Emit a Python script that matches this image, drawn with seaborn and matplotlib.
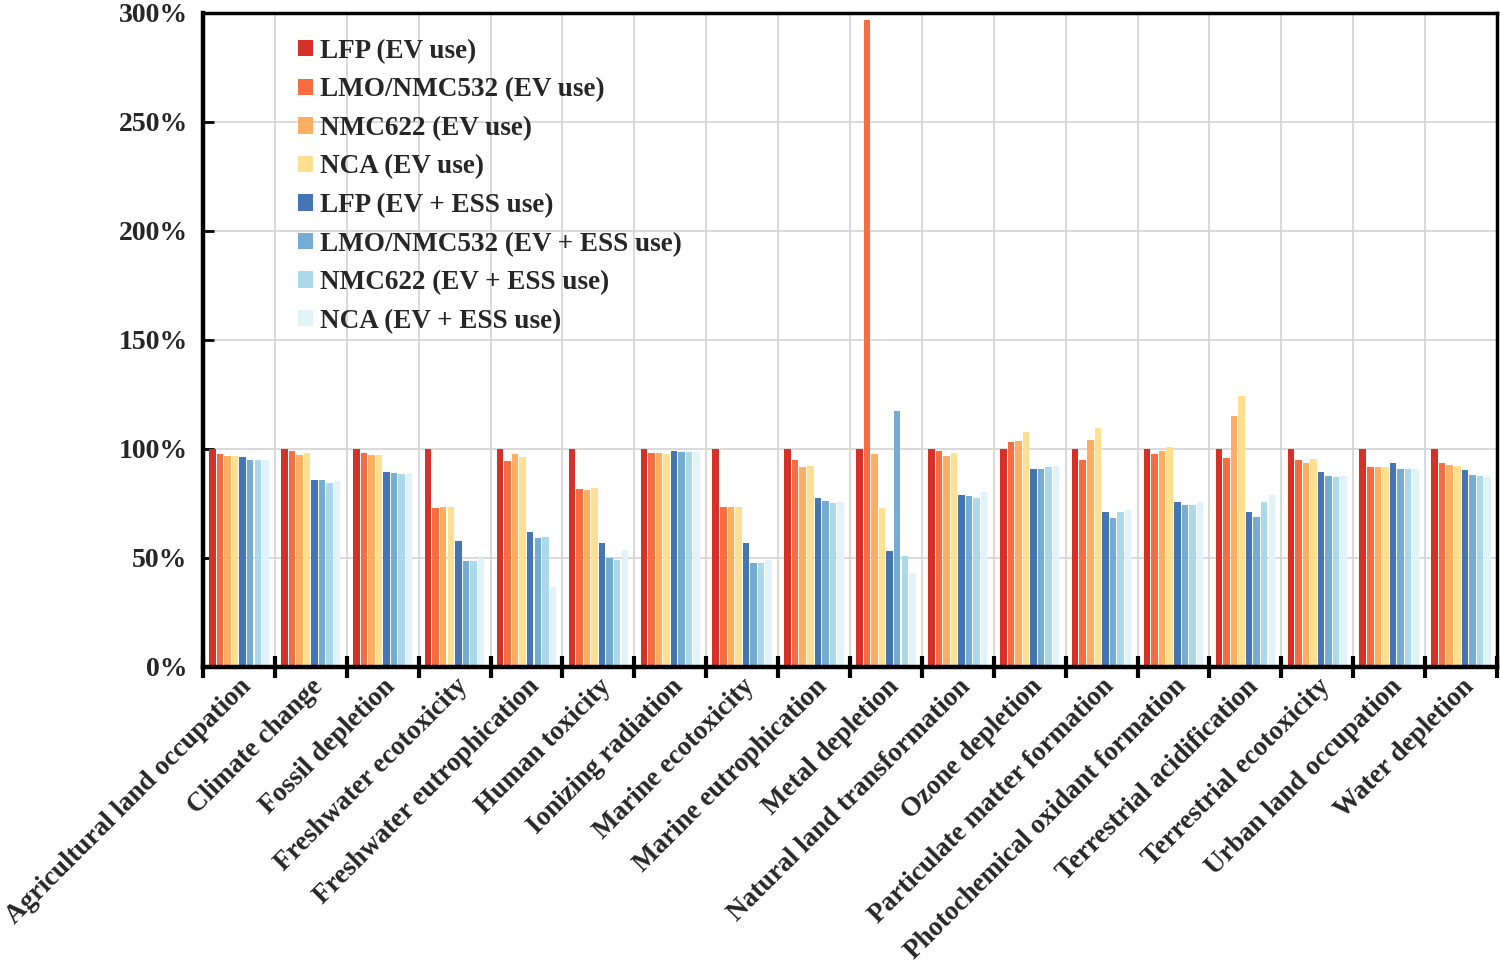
import pandas as pd
import matplotlib
matplotlib.use("Agg")
import matplotlib.pyplot as plt
import seaborn as sns
from matplotlib.ticker import PercentFormatter, FixedLocator, NullFormatter

# === Data (percent of LFP EV use) ===
categories = [
    "Agricultural land occupation", "Climate change", "Fossil depletion",
    "Freshwater ecotoxicity", "Freshwater eutrophication", "Human toxicity",
    "Ionizing radiation", "Marine ecotoxicity", "Marine eutrophication",
    "Metal depletion", "Natural land transformation", "Ozone depletion",
    "Particulate matter formation", "Photochemical oxidant formation",
    "Terrestrial acidification", "Terrestrial ecotoxicity",
    "Urban land occupation", "Water depletion",
]

series_names = [
    "LFP (EV use)", "LMO/NMC532 (EV use)", "NMC622 (EV use)", "NCA (EV use)",
    "LFP (EV + ESS use)", "LMO/NMC532 (EV + ESS use)",
    "NMC622 (EV + ESS use)", "NCA (EV + ESS use)",
]

lfp_ev = [100] * 18
lmo_ev = [97.7, 98.9, 98.3, 73.0, 94.3, 81.7, 98.3, 73.6, 95.1,
          297.0, 99.1, 103.1, 95.1, 97.7, 95.7, 95.1, 91.7, 93.4]
nmc_ev = [96.9, 97.1, 97.1, 73.6, 97.7, 81.0, 98.3, 73.6, 91.6,
          97.5, 96.9, 103.8, 104.3, 98.9, 115.2, 93.7, 91.7, 92.6]
nca_ev = [96.9, 98.3, 97.4, 73.6, 96.3, 82.2, 97.9, 73.6, 92.2,
          73.0, 98.2, 107.8, 109.7, 100.8, 124.5, 95.6, 91.7, 92.0]
lfp_ess = [96.2, 85.7, 89.6, 57.7, 61.7, 57.1, 99.2, 57.1, 77.6,
           53.1, 79.0, 90.9, 71.0, 75.6, 71.0, 89.6, 93.6, 90.2]
lmo_ess = [95.1, 85.7, 89.0, 48.5, 59.0, 50.0, 98.6, 47.7, 76.2,
           117.5, 78.4, 90.9, 68.4, 74.2, 69.0, 87.6, 91.0, 87.9]
nmc_ess = [95.1, 84.4, 88.3, 48.5, 59.7, 49.2, 98.6, 47.7, 75.0,
           51.1, 77.6, 91.6, 71.0, 74.2, 75.6, 87.0, 91.0, 87.4]
nca_ess = [94.8, 85.1, 89.0, 49.8, 36.8, 53.7, 98.5, 48.9, 75.6,
           43.3, 80.2, 92.0, 72.2, 75.6, 78.7, 87.6, 90.8, 87.3]

colors = ["#d73027", "#f46d43", "#fdae61", "#fee090",
          "#4575b4", "#74add1", "#abd9e9", "#e0f3f8"]

all_series = [lfp_ev, lmo_ev, nmc_ev, nca_ev, lfp_ess, lmo_ess, nmc_ess, nca_ess]

rows = []
for name, vals in zip(series_names, all_series):
    for cat, v in zip(categories, vals):
        rows.append({"category": cat, "series": name, "value": v})
df = pd.DataFrame(rows)


def main():
    sns.set_style("white")
    plt.rcParams['font.family'] = ['Liberation Serif', 'DejaVu Serif']
    plt.rcParams['font.weight'] = 'bold'

    fig = plt.figure(figsize=(15, 9.75), dpi=100)
    ax = fig.add_axes([0.1353, 0.3159, 0.8627, 0.6708])

    sns.barplot(
        data=df, x="category", y="value", hue="series",
        order=categories, hue_order=series_names,
        palette=colors, saturation=1, width=0.84, gap=0.14,
        linewidth=0, errorbar=None, ax=ax,
    )

    ax.set_xlim(-0.5, len(categories) - 0.5)
    ax.set_ylim(0, 300)
    ax.set_yticks(range(0, 301, 50))
    ax.yaxis.set_major_formatter(PercentFormatter(decimals=0))
    ax.set_xlabel("")
    ax.set_ylabel("")

    # Ticks: labels at centers, marks at group boundaries
    ax.tick_params(axis='x', which='major', length=0, pad=5, labelsize=19.5)
    ax.set_xticks(range(len(categories)))
    ax.set_xticklabels(categories, rotation=45, ha='right',
                       rotation_mode='anchor', fontweight='bold')
    ax.xaxis.set_minor_locator(FixedLocator([i + 0.5 for i in range(-1, len(categories))]))
    ax.xaxis.set_minor_formatter(NullFormatter())
    ax.tick_params(axis='x', which='minor', direction='inout', length=16,
                   width=3, color='black', bottom=True)
    ax.tick_params(axis='y', direction='in', length=8, width=2,
                   color='black', left=True, pad=11, labelsize=20)

    # Grid
    ax.set_axisbelow(True)
    ax.grid(True, axis='y', which='major', color='#d3d3d3', linewidth=1.2)
    ax.grid(True, axis='x', which='minor', color='#d3d3d3', linewidth=1.2)
    ax.grid(False, axis='x', which='major')

    for side in ['left', 'bottom']:
        ax.spines[side].set_linewidth(3.2)
        ax.spines[side].set_color('black')
    for side in ['top', 'right']:
        ax.spines[side].set_linewidth(2.5)
        ax.spines[side].set_color('black')

    ax.legend(
        loc="upper left", bbox_to_anchor=(0.065, 0.977), frameon=False,
        handlelength=0.55, handleheight=0.55,
        handletextpad=0.25, labelspacing=0.5, borderaxespad=0,
        prop={'weight': 'bold', 'size': 19.5},
    )

    plt.savefig("out.png", dpi=100)
    plt.close()


if __name__ == '__main__':
    main()
